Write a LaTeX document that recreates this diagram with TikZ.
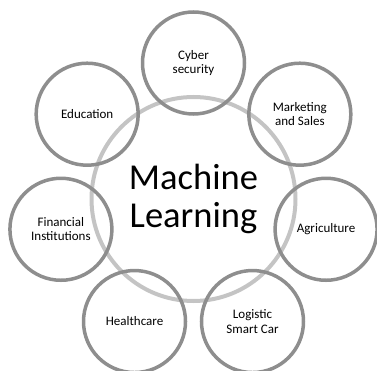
\documentclass[tikz,border=0pt]{standalone}
\usepackage{fontspec}
\setmainfont{Carlito}
\usetikzlibrary{calc}
\definecolor{ringlight}{HTML}{C4C4C4}
\definecolor{ringdark}{HTML}{8E8E8E}
\begin{document}
\begin{tikzpicture}[x=1pt,y=1pt,
  hub/.style={circle,draw=ringlight,line width=4pt,minimum size=204pt,inner sep=0pt,
    align=center,font=\fontsize{36.5}{38}\selectfont},
  sat/.style={circle,draw=ringdark,line width=3.5pt,minimum size=102pt,inner sep=0pt,
    align=center,font=\fontsize{13}{14.5}\selectfont}]
\useasboundingbox (0,0) rectangle (377,-371);
\clip (0,0) rectangle (377,-371);
\node[hub] (ml) at (193.5,-199) {Machine\\Learning};
\foreach \nm/\ang/\txt in {cy/90/{Cyber\\security},
  mk/38.57/{Marketing\\and Sales},
  ag/-12.86/{Agriculture},
  lo/-64.29/{Logistic\\Smart Car},
  he/-115.71/{Healthcare},
  fi/-167.14/{Financial\\Institutions},
  ed/141.43/{Education}}
  \node[sat] (\nm) at ($(ml.center)+(\ang:136)$) {\txt};
\end{tikzpicture}
\end{document}
